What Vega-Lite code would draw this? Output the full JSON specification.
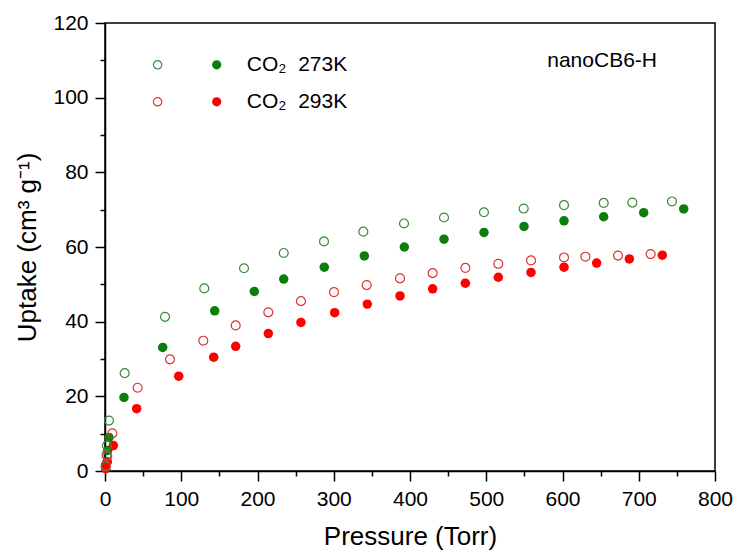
{
  "$schema": "https://vega.github.io/schema/vega-lite/v6.json",
  "width": 610,
  "height": 448,
  "autosize": "none",
  "padding": {"left": 105, "top": 23, "right": 22, "bottom": 81},
  "background": "white",
  "config": {
    "view": {"stroke": "#000", "strokeWidth": 1.5},
    "font": "Liberation Sans",
    "axis": {
      "grid": false,
      "domainColor": "#000",
      "domainWidth": 1.5,
      "tickColor": "#000",
      "tickWidth": 1.5,
      "labelFont": "Liberation Sans",
      "labelFontSize": 21,
      "labelColor": "#000",
      "labelPadding": 7,
      "labelFlush": false,
      "labelOverlap": false,
      "titleFont": "Liberation Sans",
      "titleFontSize": 26,
      "titleFontWeight": "normal",
      "titleColor": "#000"
    }
  },
  "datasets": {
    "isotherms": [
      {"p": 0.8, "u": 0.7, "temp": "273K", "branch": "adsorption"},
      {"p": 2, "u": 2.1, "temp": "273K", "branch": "adsorption"},
      {"p": 3.5, "u": 5.5, "temp": "273K", "branch": "adsorption"},
      {"p": 5.2, "u": 9.0, "temp": "273K", "branch": "adsorption"},
      {"p": 24.9, "u": 19.7, "temp": "273K", "branch": "adsorption"},
      {"p": 75.7, "u": 33.1, "temp": "273K", "branch": "adsorption"},
      {"p": 143.9, "u": 42.9, "temp": "273K", "branch": "adsorption"},
      {"p": 195.8, "u": 48.1, "temp": "273K", "branch": "adsorption"},
      {"p": 234.4, "u": 51.4, "temp": "273K", "branch": "adsorption"},
      {"p": 287.6, "u": 54.6, "temp": "273K", "branch": "adsorption"},
      {"p": 340.1, "u": 57.6, "temp": "273K", "branch": "adsorption"},
      {"p": 392.6, "u": 60.0, "temp": "273K", "branch": "adsorption"},
      {"p": 444.6, "u": 62.1, "temp": "273K", "branch": "adsorption"},
      {"p": 497, "u": 63.9, "temp": "273K", "branch": "adsorption"},
      {"p": 549.5, "u": 65.5, "temp": "273K", "branch": "adsorption"},
      {"p": 602, "u": 67.0, "temp": "273K", "branch": "adsorption"},
      {"p": 654, "u": 68.1, "temp": "273K", "branch": "adsorption"},
      {"p": 706.5, "u": 69.2, "temp": "273K", "branch": "adsorption"},
      {"p": 759, "u": 70.2, "temp": "273K", "branch": "adsorption"},

      {"p": 0.8, "u": 1.2, "temp": "273K", "branch": "desorption"},
      {"p": 2, "u": 4.3, "temp": "273K", "branch": "desorption"},
      {"p": 2.5, "u": 6.8, "temp": "273K", "branch": "desorption"},
      {"p": 5.2, "u": 13.5, "temp": "273K", "branch": "desorption"},
      {"p": 25.8, "u": 26.2, "temp": "273K", "branch": "desorption"},
      {"p": 78.7, "u": 41.3, "temp": "273K", "branch": "desorption"},
      {"p": 130.2, "u": 48.9, "temp": "273K", "branch": "desorption"},
      {"p": 182.3, "u": 54.3, "temp": "273K", "branch": "desorption"},
      {"p": 234.4, "u": 58.4, "temp": "273K", "branch": "desorption"},
      {"p": 287.2, "u": 61.5, "temp": "273K", "branch": "desorption"},
      {"p": 338.8, "u": 64.1, "temp": "273K", "branch": "desorption"},
      {"p": 392.1, "u": 66.3, "temp": "273K", "branch": "desorption"},
      {"p": 444.6, "u": 67.9, "temp": "273K", "branch": "desorption"},
      {"p": 497, "u": 69.3, "temp": "273K", "branch": "desorption"},
      {"p": 549.1, "u": 70.3, "temp": "273K", "branch": "desorption"},
      {"p": 602, "u": 71.2, "temp": "273K", "branch": "desorption"},
      {"p": 654, "u": 71.8, "temp": "273K", "branch": "desorption"},
      {"p": 691.6, "u": 71.9, "temp": "273K", "branch": "desorption"},
      {"p": 743.6, "u": 72.2, "temp": "273K", "branch": "desorption"},

      {"p": 1, "u": 0.6, "temp": "293K", "branch": "adsorption"},
      {"p": 3, "u": 2.5, "temp": "293K", "branch": "adsorption"},
      {"p": 10.9, "u": 6.8, "temp": "293K", "branch": "adsorption"},
      {"p": 41.5, "u": 16.7, "temp": "293K", "branch": "adsorption"},
      {"p": 96.7, "u": 25.4, "temp": "293K", "branch": "adsorption"},
      {"p": 142.6, "u": 30.5, "temp": "293K", "branch": "adsorption"},
      {"p": 171.4, "u": 33.4, "temp": "293K", "branch": "adsorption"},
      {"p": 214.2, "u": 36.8, "temp": "293K", "branch": "adsorption"},
      {"p": 257, "u": 39.8, "temp": "293K", "branch": "adsorption"},
      {"p": 301.2, "u": 42.4, "temp": "293K", "branch": "adsorption"},
      {"p": 344, "u": 44.7, "temp": "293K", "branch": "adsorption"},
      {"p": 386.9, "u": 46.9, "temp": "293K", "branch": "adsorption"},
      {"p": 429.7, "u": 48.8, "temp": "293K", "branch": "adsorption"},
      {"p": 472.6, "u": 50.3, "temp": "293K", "branch": "adsorption"},
      {"p": 515.8, "u": 51.9, "temp": "293K", "branch": "adsorption"},
      {"p": 558.7, "u": 53.2, "temp": "293K", "branch": "adsorption"},
      {"p": 602, "u": 54.6, "temp": "293K", "branch": "adsorption"},
      {"p": 644.8, "u": 55.7, "temp": "293K", "branch": "adsorption"},
      {"p": 687.7, "u": 56.8, "temp": "293K", "branch": "adsorption"},
      {"p": 730.9, "u": 57.8, "temp": "293K", "branch": "adsorption"},

      {"p": 1, "u": 1.5, "temp": "293K", "branch": "desorption"},
      {"p": 3, "u": 4.0, "temp": "293K", "branch": "desorption"},
      {"p": 9.6, "u": 10.1, "temp": "293K", "branch": "desorption"},
      {"p": 42.8, "u": 22.3, "temp": "293K", "branch": "desorption"},
      {"p": 85.2, "u": 29.9, "temp": "293K", "branch": "desorption"},
      {"p": 128.9, "u": 34.9, "temp": "293K", "branch": "desorption"},
      {"p": 171.4, "u": 39.0, "temp": "293K", "branch": "desorption"},
      {"p": 214.2, "u": 42.5, "temp": "293K", "branch": "desorption"},
      {"p": 257, "u": 45.5, "temp": "293K", "branch": "desorption"},
      {"p": 300.3, "u": 47.9, "temp": "293K", "branch": "desorption"},
      {"p": 343.2, "u": 49.8, "temp": "293K", "branch": "desorption"},
      {"p": 386.9, "u": 51.6, "temp": "293K", "branch": "desorption"},
      {"p": 429.7, "u": 53.0, "temp": "293K", "branch": "desorption"},
      {"p": 472.6, "u": 54.4, "temp": "293K", "branch": "desorption"},
      {"p": 515.8, "u": 55.5, "temp": "293K", "branch": "desorption"},
      {"p": 558.7, "u": 56.4, "temp": "293K", "branch": "desorption"},
      {"p": 602, "u": 57.2, "temp": "293K", "branch": "desorption"},
      {"p": 630, "u": 57.4, "temp": "293K", "branch": "desorption"},
      {"p": 672.8, "u": 57.7, "temp": "293K", "branch": "desorption"},
      {"p": 715.6, "u": 58.1, "temp": "293K", "branch": "desorption"}
    ],
    "single": [{}]
  },
  "resolve": {"axis": {"x": "independent", "y": "independent"}},
  "layer": [
    {
      "data": {"name": "isotherms"},
      "transform": [{"filter": "datum.branch === 'adsorption'"}],
      "mark": {"type": "point", "shape": "circle", "filled": true, "size": 90, "opacity": 1},
      "encoding": {
        "x": {
          "field": "p",
          "type": "quantitative",
          "scale": {"domain": [0, 800], "nice": false, "zero": false},
          "axis": {
            "orient": "bottom",
            "title": "Pressure (Torr)",
            "values": [0, 100, 200, 300, 400, 500, 600, 700, 800],
            "tickSize": 10,
            "titlePadding": 14
          }
        },
        "y": {
          "field": "u",
          "type": "quantitative",
          "scale": {"domain": [0, 120], "nice": false, "zero": false},
          "axis": {
            "orient": "left",
            "title": "Uptake (cm³ g⁻¹)",
            "values": [0, 20, 40, 60, 80, 100, 120],
            "tickSize": 10,
            "titlePadding": 12
          }
        },
        "fill": {
          "field": "temp",
          "type": "nominal",
          "scale": {"domain": ["273K", "293K"], "range": ["#0a7f0a", "#ff0000"]},
          "legend": null
        }
      }
    },
    {
      "data": {"name": "isotherms"},
      "transform": [{"filter": "datum.branch === 'desorption'"}],
      "mark": {"type": "point", "shape": "circle", "filled": false, "size": 80, "strokeWidth": 1.2, "opacity": 1},
      "encoding": {
        "x": {
          "field": "p",
          "type": "quantitative",
          "axis": {
            "orient": "bottom",
            "title": null,
            "values": [50, 150, 250, 350, 450, 550, 650, 750],
            "labels": false,
            "domain": false,
            "tickSize": 5
          }
        },
        "y": {
          "field": "u",
          "type": "quantitative",
          "axis": {
            "orient": "left",
            "title": null,
            "values": [10, 30, 50, 70, 90, 110],
            "labels": false,
            "domain": false,
            "tickSize": 5
          }
        },
        "stroke": {
          "field": "temp",
          "type": "nominal",
          "scale": {"domain": ["273K", "293K"], "range": ["#3a8a3a", "#dc3535"]},
          "legend": null
        }
      }
    },
    {
      "data": {"name": "single"},
      "mark": {"type": "point", "shape": "circle", "filled": false, "size": 70, "strokeWidth": 1.2, "opacity": 1},
      "encoding": {"x": {"datum": 69, "axis": null}, "y": {"datum": 108.8, "axis": null}, "stroke": {"datum": "273K"}}
    },
    {
      "data": {"name": "single"},
      "mark": {"type": "point", "shape": "circle", "filled": true, "size": 85, "opacity": 1},
      "encoding": {"x": {"datum": 146.5, "axis": null}, "y": {"datum": 108.8, "axis": null}, "fill": {"datum": "273K"}}
    },
    {
      "data": {"name": "single"},
      "mark": {"type": "text", "text": "CO₂ \u00a0273K", "align": "left", "baseline": "middle", "fontSize": 21, "font": "Liberation Sans", "color": "#000"},
      "encoding": {"x": {"datum": 186, "axis": null}, "y": {"datum": 108.8, "axis": null}}
    },
    {
      "data": {"name": "single"},
      "mark": {"type": "point", "shape": "circle", "filled": false, "size": 70, "strokeWidth": 1.2, "opacity": 1},
      "encoding": {"x": {"datum": 69, "axis": null}, "y": {"datum": 98.9, "axis": null}, "stroke": {"datum": "293K"}}
    },
    {
      "data": {"name": "single"},
      "mark": {"type": "point", "shape": "circle", "filled": true, "size": 85, "opacity": 1},
      "encoding": {"x": {"datum": 146.5, "axis": null}, "y": {"datum": 98.9, "axis": null}, "fill": {"datum": "293K"}}
    },
    {
      "data": {"name": "single"},
      "mark": {"type": "text", "text": "CO₂ \u00a0293K", "align": "left", "baseline": "middle", "fontSize": 21, "font": "Liberation Sans", "color": "#000"},
      "encoding": {"x": {"datum": 186, "axis": null}, "y": {"datum": 98.9, "axis": null}}
    },
    {
      "data": {"name": "single"},
      "mark": {"type": "text", "text": "nanoCB6-H", "align": "left", "baseline": "alphabetic", "fontSize": 21, "font": "Liberation Sans", "color": "#000"},
      "encoding": {"x": {"datum": 580, "axis": null}, "y": {"datum": 108.3, "axis": null}}
    }
  ]
}
